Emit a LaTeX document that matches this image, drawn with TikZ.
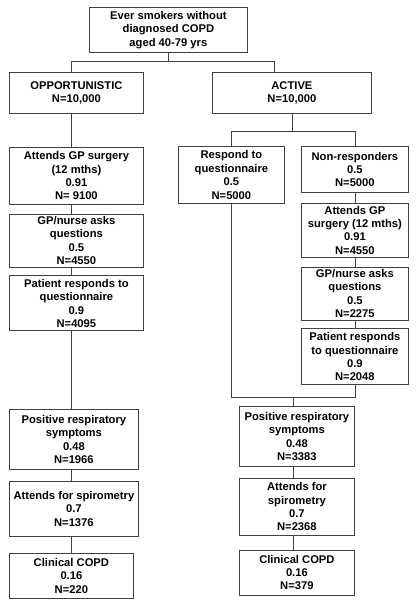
\documentclass[tikz,border=0pt]{standalone}
\usepackage{fontspec}
\setmainfont{Liberation Sans}
\usetikzlibrary{positioning}

\begin{document}
\begin{tikzpicture}[x=1pt, y=-1pt,
node distance = 9pt and 0pt,
     L/.style = {draw=black!75, line width=0.8pt},
     N/.style = {L, align=center, inner sep=2pt, anchor=north west,
                 font=\fontsize{11.2}{13.4}\selectfont\bfseries},
     W/.style = {minimum width=#1},
     H/.style = {minimum height=#1}
                    ]
\useasboundingbox (0,0) rectangle (416,601);
%
\node (top)  [N, W=158pt, H=45pt] at (89,7)   {Ever smokers without\\ diagnosed COPD\\ aged 40-79 yrs};
\node (opp)  [N, W=134pt, H=41pt] at (9,72)   {OPPORTUNISTIC\\ N=10,000};
\node (act)  [N, W=159pt, H=41pt] at (212,72) {ACTIVE\\ N=10,000};
% opportunistic arm
\node (attL) [N, W=134pt, H=57pt, below=33pt of opp.south west, anchor=north west]
             {Attends GP surgery\\ (12 mths)\\ 0.91\\ N= 9100};
\node (gpL)  [N, W=134pt, H=53pt, below=of attL.south west, anchor=north west]
             {GP/nurse asks\\ questions\\ 0.5\\ N=4550};
\node (patL) [N, W=134pt, H=55pt, below=8pt of gpL.south west, anchor=north west]
             {Patient responds to\\ questionnaire\\ 0.9\\ N=4095};
\node (posL) [N, W=129pt, H=60pt, below=78pt of patL.south west, anchor=north west]
             {Positive respiratory\\ symptoms\\ 0.48\\ N=1966};
\node (spiL) [N, W=129pt, H=55pt, below=11pt of posL.south west, anchor=north west]
             {Attends for spirometry\\ 0.7\\ N=1376};
\node (cliL) [N, W=124pt, H=45pt, below=16pt of spiL.south west, anchor=north west]
             {Clinical COPD\\ 0.16\\ N=220};
% active arm
\node (resp) [N, W=106pt, H=57pt] at (178,146) {Respond to\\ questionnaire\\ 0.5\\ N=5000};
\node (nonr) [N, W=107pt, H=46pt] at (301,146) {Non-responders\\ 0.5\\ N=5000};
\node (attR) [N, W=107pt, H=54pt, below=10pt of nonr.south west, anchor=north west]
             {Attends GP\\ surgery (12 mths)\\ 0.91\\ N=4550};
\node (gpR)  [N, W=107pt, H=53pt, below=of attR.south west, anchor=north west]
             {GP/nurse asks\\ questions\\ 0.5\\ N=2275};
\node (patR) [N, W=107pt, H=56pt, below=8pt of gpR.south west, anchor=north west]
             {Patient responds\\ to questionnaire\\ 0.9\\ N=2048};
\node (posR) [N, W=115pt, H=60pt] at (239,406) {Positive respiratory\\ symptoms\\ 0.48\\ N=3383};
\node (spiR) [N, W=115pt, H=57pt, below=11pt of posR.south west, anchor=north west]
             {Attends for\\ spirometry\\ 0.7\\ N=2368};
\node (cliR) [N, W=115pt, H=45pt, below=14pt of spiR.south west, anchor=north west]
             {Clinical COPD\\ 0.16\\ N=379};
%
\coordinate (lx) at (71,0);
\coordinate (ax) at (274,0);
\coordinate (rx) at (293,0);
\coordinate[below=of top.south]     (s1);
\coordinate[below=18pt of act.south] (s2);
\coordinate[below=12pt of patR.south] (s3);
%
\draw[L]    (top) -- (s1);
\draw[L]    (opp.north -| lx) |- (s1) -| (act.north -| ax);
\draw[L]    (opp.south -| lx) -- (attL.north -| lx);
\foreach \a/\b in {attL/gpL, gpL/patL, patL/posL, posL/spiL, spiL/cliL}
    \draw[L]    (\a.south -| lx) -- (\b.north -| lx);
\draw[L]    (act) -- (s2);
\draw[L]    (resp.north) |- (s2) -| (nonr.north);
\foreach \a/\b in {nonr/attR, attR/gpR, gpR/patR}
    \draw[L]    (\a) -- (\b);
\draw[L]    (resp.south) |- (s3) -- (patR.south);
\draw[L]    (s3 -| rx) -- (posR.north -| rx);
\foreach \a/\b in {posR/spiR, spiR/cliR}
    \draw[L]    (\a.south -| rx) -- (\b.north -| rx);
\end{tikzpicture}
\end{document}
